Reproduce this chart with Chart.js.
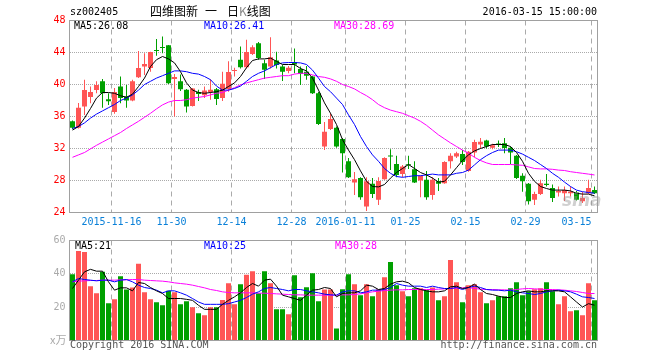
<!DOCTYPE html>
<html>
<head>
<meta charset="utf-8">
<script src="https://cdn.jsdelivr.net/npm/chart.js@4.4.0/dist/chart.umd.min.js"></script>
<style>
  html, body { margin: 0; padding: 0; background: #fff; }
  #box { position: relative; width: 660px; height: 360px; overflow: hidden; background: #fff; }
  #box canvas { position: absolute; left: 0; }
  .txt { position: absolute; font: 10px "DejaVu Sans Mono", monospace; line-height: 12px; white-space: pre; }
  .cjk { position: absolute; font: 12px "Noto Sans CJK SC", sans-serif; line-height: 14px; white-space: pre; }
</style>
</head>
<body>
<div id="box">
  <canvas id="kline" width="660" height="232" style="top:0"></canvas>
  <canvas id="vol" width="660" height="128" style="top:232px"></canvas>

  <div class="txt" style="left:70px;top:6px">sz002405</div>
  <div class="cjk" style="left:150px;top:4px">四维图新</div>
  <div class="cjk" style="left:205px;top:4px">一</div>
  <div class="cjk" style="left:227px;top:4px">日<span style="color:#888">K</span>线图</div>
  <div class="txt" style="right:63px;top:6px">2016-03-15 15:00:00</div>

  <div class="txt" style="left:74px;top:20px;color:#000">MA5:26.08</div>
  <div class="txt" style="left:204px;top:20px;color:#0000ff">MA10:26.41</div>
  <div class="txt" style="left:334px;top:20px;color:#ff00ff">MA30:28.69</div>

  <div class="txt" style="left:75px;top:240px;color:#000">MA5:21</div>
  <div class="txt" style="left:204px;top:240px;color:#0000ff">MA10:25</div>
  <div class="txt" style="left:335px;top:240px;color:#ff00ff">MA30:28</div>

  <div class="cjk" style="left:50px;top:332px;color:#aaa;font-size:11px">x万</div>
  <div class="txt" style="left:70px;top:339px;color:#555">Copyright 2016 SINA.COM</div>
  <div class="txt" style="right:63px;top:339px;color:#555">http://finance.sina.com.cn</div>
  <div style="position:absolute;left:562px;top:190px;font:italic bold 17px 'DejaVu Sans',sans-serif;color:rgba(150,150,150,0.45)">sina</div>
</div>

<script>
// Archivo: index.html — K线 + 成交量

const dates = [
  '2015-11-05', '2015-11-06', '2015-11-09', '2015-11-10', '2015-11-11', '2015-11-12', '2015-11-13',
  '2015-11-16', '2015-11-17', '2015-11-18', '2015-11-19', '2015-11-20',
  '2015-11-23', '2015-11-24', '2015-11-25', '2015-11-26', '2015-11-27',
  '2015-11-30', '2015-12-01', '2015-12-02', '2015-12-03', '2015-12-04',
  '2015-12-07', '2015-12-08', '2015-12-09', '2015-12-10', '2015-12-11',
  '2015-12-14', '2015-12-15', '2015-12-16', '2015-12-17', '2015-12-18',
  '2015-12-21', '2015-12-22', '2015-12-23', '2015-12-24', '2015-12-25',
  '2015-12-28', '2015-12-29', '2015-12-30', '2015-12-31',
  '2016-01-04', '2016-01-05', '2016-01-06', '2016-01-07', '2016-01-08',
  '2016-01-11', '2016-01-12', '2016-01-13', '2016-01-14', '2016-01-15',
  '2016-01-18', '2016-01-19', '2016-01-20', '2016-01-21', '2016-01-22',
  '2016-01-25', '2016-01-26', '2016-01-27', '2016-01-28', '2016-01-29',
  '2016-02-01', '2016-02-02', '2016-02-03', '2016-02-04', '2016-02-05',
  '2016-02-15', '2016-02-16', '2016-02-17', '2016-02-18', '2016-02-19',
  '2016-02-22', '2016-02-23', '2016-02-24', '2016-02-25', '2016-02-26',
  '2016-02-29', '2016-03-01', '2016-03-02', '2016-03-03', '2016-03-04',
  '2016-03-07', '2016-03-08', '2016-03-09', '2016-03-10', '2016-03-11',
  '2016-03-14', '2016-03-15'
];

// Fechas marcadas en el eje X y su texto
const tickDates = ['2015-11-16', '2015-11-30', '2015-12-14', '2015-12-28', '2016-01-11', '2016-01-25', '2016-02-15', '2016-02-29', '2016-03-15'];
const tickTexts = ['2015-11-16', '11-30', '12-14', '12-28', '2016-01-11', '01-25', '02-15', '02-29', '03-15'];

const priceTicks = [24, 28, 32, 36, 40, 44, 48];
const volTicks = [0, 20, 40, 60];

const opens = [35.4, 34.6, 37.25, 38.45, 39.3, 40.4, 38.15, 36.55, 39.75, 38.5,
  38.0, 40.9, 42.25, 42.05, 44.25, 44.6, 44.9, 40.7, 40.4, 39.35,
  37.3, 39.05, 38.65, 39.05, 39.4, 38.3, 39.45, 41.7, 43.1, 42.15,
  43.8, 45.15, 42.65, 42.25, 43.0, 42.25, 41.7, 42.8, 41.95, 41.6,
  41.0, 38.9, 32.25, 34.45, 34.6, 33.2, 30.4, 27.75, 28.3, 24.75,
  27.6, 25.6, 28.15, 31.1, 30.05, 28.8, 29.95, 29.4, 28.0, 28.1,
  26.2, 27.9, 27.65, 30.4, 31.0, 31.3, 29.2, 31.5, 32.5, 33.0,
  32.1, 32.6, 32.65, 32.1, 31.1, 28.6, 27.6, 25.6, 26.3, 27.6,
  27.05, 26.5, 26.4, 26.4, 26.5, 25.4, 26.4, 26.8];

const highs = [35.5, 37.7, 40.6, 39.75, 40.4, 40.7, 38.9, 39.55, 41.0, 39.95,
  40.6, 44.2, 43.9, 44.1, 45.7, 46.0, 44.95, 41.3, 41.25, 39.45,
  39.55, 39.35, 39.75, 40.65, 39.55, 41.6, 42.9, 42.1, 44.75, 45.6,
  44.9, 45.3, 43.1, 45.9, 44.1, 42.45, 42.3, 44.5, 42.25, 42.3,
  41.1, 39.05, 35.3, 36.4, 34.75, 33.3, 30.8, 29.05, 28.4, 28.4,
  28.3, 28.4, 30.9, 31.9, 31.1, 29.95, 31.1, 30.4, 28.6, 29.2,
  28.4, 28.3, 30.4, 31.4, 31.6, 31.8, 31.7, 33.1, 33.3, 33.1,
  32.6, 33.0, 33.3, 32.25, 31.2, 28.9, 27.7, 26.6, 28.1, 28.8,
  27.5, 27.25, 27.25, 27.25, 26.7, 26.6, 28.1, 27.25];

const lows = [34.4, 34.5, 36.2, 37.65, 38.9, 37.1, 37.45, 36.35, 37.65, 37.1,
  37.9, 40.8, 41.2, 41.6, 43.6, 43.9, 40.05, 36.0, 39.2, 36.5,
  37.25, 37.95, 38.3, 38.1, 37.45, 37.95, 39.1, 41.0, 42.0, 42.0,
  43.7, 43.1, 40.7, 42.0, 42.0, 40.45, 41.4, 41.4, 39.95, 40.6,
  38.8, 34.95, 31.8, 34.3, 32.1, 29.0, 28.3, 26.2, 25.6, 24.2,
  25.8, 24.95, 28.1, 29.3, 28.4, 28.4, 29.45, 27.7, 25.9, 25.6,
  25.6, 26.7, 27.6, 29.5, 30.8, 29.95, 29.1, 30.9, 32.0, 32.0,
  31.9, 32.2, 31.4, 30.05, 28.2, 26.6, 25.0, 24.95, 26.2, 27.25,
  25.3, 26.0, 25.45, 26.0, 25.5, 25.2, 26.3, 26.3];

const closes = [34.6, 37.1, 39.3, 39.05, 39.95, 38.9, 37.9, 39.05, 38.3, 38.0,
  40.4, 42.05, 42.55, 44.05, 44.2, 44.55, 40.15, 40.95, 39.4, 37.25,
  39.5, 38.8, 39.25, 39.35, 38.2, 40.1, 41.55, 41.8, 42.15, 44.05,
  44.65, 43.3, 41.85, 43.4, 42.45, 41.6, 42.1, 42.5, 41.3, 41.1,
  38.9, 35.05, 34.1, 35.7, 32.25, 31.4, 28.4, 28.15, 25.9, 27.9,
  26.3, 27.95, 30.8, 31.0, 28.7, 29.75, 29.9, 27.75, 28.6, 25.9,
  28.1, 27.6, 30.3, 31.1, 31.4, 30.3, 31.6, 32.8, 32.85, 32.25,
  32.4, 32.5, 32.05, 31.5, 28.3, 27.9, 25.4, 26.3, 27.65, 27.45,
  25.8, 26.7, 26.8, 26.6, 25.6, 25.8, 27.05, 26.4];

const ma5 = [34.3, 34.75, 35.8, 37.0, 38.3, 39.0, 39.0, 38.9, 38.6, 38.4,
  38.8, 39.75, 40.8, 42.25, 43.1, 43.5, 43.2, 42.7, 41.6, 40.2,
  39.3, 39.0, 38.9, 39.0, 39.1, 39.3, 39.75, 40.2, 41.0, 42.1,
  43.0, 43.2, 43.2, 43.3, 42.9, 42.5, 42.5, 42.5, 42.0, 41.7,
  40.8, 39.3, 37.7, 36.4, 35.0, 33.1, 31.8, 30.6, 29.2, 27.9,
  27.25, 27.2, 27.5, 28.3, 29.0, 29.5, 30.0, 29.5, 29.0, 28.7,
  28.3, 27.8, 27.9, 28.7, 29.6, 30.5, 31.2, 31.7, 32.0, 32.25,
  32.5, 32.5, 32.5, 32.25, 31.5, 30.4, 28.9, 27.9, 27.25, 27.0,
  26.8, 26.8, 26.8, 26.7, 26.4, 26.3, 26.3, 26.08];

const ma10 = [34.5, 34.75, 35.2, 35.8, 36.3, 36.7, 37.1, 37.5, 38.0, 38.3,
  38.7, 39.3, 40.0, 40.4, 40.8, 41.1, 41.4, 41.7, 41.7, 41.6,
  41.4, 41.3, 41.0, 40.6, 39.8, 39.3, 39.3, 39.5, 39.8, 40.4,
  41.0, 41.4, 41.7, 42.1, 42.5, 42.7, 42.75, 42.75, 42.7, 42.5,
  41.8, 40.8, 39.75, 39.1, 38.3, 37.5, 36.2, 35.0, 33.5, 32.25,
  31.2, 30.4, 29.5, 28.9, 28.5, 28.4, 28.5, 28.6, 28.6, 28.7,
  28.8, 28.7, 28.7, 28.7, 28.9, 29.0, 29.3, 29.95, 30.6, 31.1,
  31.5, 31.8, 31.8, 31.8, 31.6, 31.3, 30.9, 30.5, 30.0, 29.5,
  28.9, 28.4, 27.8, 27.25, 26.8, 26.6, 26.5, 26.41];

const ma30 = [30.9, 31.2, 31.5, 31.95, 32.4, 32.8, 33.2, 33.6, 34.0, 34.5,
  34.95, 35.4, 35.9, 36.4, 36.95, 37.45, 37.8, 38.0, 38.0, 38.1,
  38.3, 38.4, 38.5, 38.7, 38.9, 39.0, 39.3, 39.6, 39.95, 40.2,
  40.4, 40.6, 40.8, 40.9, 41.0, 41.1, 41.1, 41.3, 41.4, 41.4,
  41.2, 41.0, 40.9, 40.7, 40.4, 40.0, 39.75, 39.45, 39.0, 38.6,
  38.1, 37.5, 37.1, 36.8, 36.6, 36.4, 36.1, 35.8, 35.4, 34.9,
  34.3, 33.7, 33.2, 32.7, 32.25, 31.8, 31.4, 30.9, 30.5, 30.2,
  30.0, 30.0, 30.0, 30.0, 29.95, 29.9, 29.7, 29.5, 29.45, 29.45,
  29.4, 29.3, 29.25, 29.1, 29.0, 28.9, 28.8, 28.69];

// Volumen en 万手
const volumes = [39.8, 53.7, 53.1, 32.6, 28.4, 41.2, 22.3, 24.7, 38.6, 30.6,
  31.8, 46.1, 29.0, 24.7, 22.9, 21.1, 29.8, 29.0, 21.7, 23.5,
  19.9, 16.3, 15.1, 19.9, 19.9, 24.3, 34.4, 21.7, 33.8, 39.4,
  41.6, 28.4, 41.6, 34.4, 18.7, 18.7, 15.7, 39.2, 26.0, 32.0,
  40.4, 23.5, 30.6, 30.6, 7.2, 30.8, 39.8, 33.8, 27.2, 33.8,
  26.6, 30.8, 38.0, 47.1, 33.2, 29.6, 26.6, 31.4, 31.4, 30.2,
  31.8, 24.1, 26.6, 48.3, 35.0, 22.9, 33.2, 33.8, 29.0, 22.3,
  24.1, 26.6, 26.6, 31.4, 35.0, 27.2, 29.6, 30.8, 31.4, 35.0,
  29.6, 21.7, 26.6, 17.5, 18.1, 15.1, 34.4, 24.1];

const volMa5 = [31.2, 36.2, 41.2, 42.7, 41.6, 41.6, 35.2, 30.2, 31.6, 31.6,
  29.8, 34.8, 34.2, 31.8, 29.8, 28.2, 25.2, 25.2, 25.2, 24.7,
  24.1, 21.1, 18.7, 18.7, 18.7, 21.7, 24.1, 26.2, 28.6, 31.8,
  34.2, 32.6, 36.2, 36.8, 32.6, 27.2, 26.2, 25.2, 24.1, 27.2,
  30.2, 30.6, 31.8, 31.2, 26.2, 28.2, 28.6, 28.6, 29.8, 33.2,
  32.6, 30.6, 31.2, 33.8, 35.2, 35.6, 34.6, 31.8, 30.6, 29.8,
  29.2, 29.2, 29.8, 32.2, 32.6, 31.2, 31.8, 33.8, 30.6, 28.2,
  27.6, 26.6, 25.8, 25.8, 28.2, 29.2, 29.8, 29.2, 29.2, 29.8,
  29.8, 29.8, 29.2, 26.2, 23.1, 20.1, 22.1, 21.2];

const volMa10 = [35.2, 37.2, 36.6, 36.2, 35.8, 36.2, 36.2, 35.2, 36.2, 36.6,
  35.2, 33.2, 31.8, 31.2, 30.2, 28.6, 29.8, 29.8, 28.6, 27.2,
  25.2, 23.1, 21.7, 21.7, 21.7, 21.7, 22.1, 23.1, 24.1, 25.8,
  27.8, 29.2, 31.2, 31.8, 31.2, 30.6, 29.8, 30.6, 30.6, 29.8,
  29.2, 28.6, 27.8, 27.4, 27.2, 29.2, 29.8, 29.8, 28.6, 29.2,
  30.2, 30.2, 30.6, 31.8, 34.2, 33.2, 32.6, 32.6, 32.6, 31.8,
  32.6, 31.8, 31.2, 31.2, 31.8, 30.6, 31.8, 32.6, 31.8, 30.6,
  30.2, 30.2, 29.8, 30.2, 29.2, 28.6, 28.2, 27.6, 28.2, 29.2,
  29.8, 30.2, 29.8, 29.2, 27.8, 26.2, 25.8, 25.2];

const volMa30 = [35.2, 35.6, 35.8, 36.0, 36.0, 36.2, 36.2, 36.2, 36.4, 36.4,
  36.6, 36.6, 36.2, 36.0, 35.8, 35.6, 35.2, 34.6, 34.2, 33.8,
  33.2, 32.4, 31.6, 30.6, 30.0, 29.2, 28.8, 28.6, 28.6, 28.6,
  28.6, 28.4, 28.4, 28.2, 28.0, 27.8, 27.6, 27.4, 27.4, 27.2,
  27.2, 27.2, 27.2, 27.2, 27.2, 27.4, 27.4, 27.6, 28.0, 28.6,
  29.2, 29.6, 30.0, 30.2, 30.4, 30.4, 30.6, 30.6, 30.6, 30.6,
  30.6, 30.8, 31.0, 31.2, 31.4, 31.6, 31.8, 31.2, 30.8, 30.6,
  30.6, 30.4, 30.4, 30.2, 30.6, 31.0, 31.2, 31.0, 30.8, 30.6,
  30.6, 30.4, 30.2, 29.8, 29.4, 28.8, 28.2, 28.2];

const ROJO = '#ff5555';
const VERDE = '#00a000';
const MONO = 'DejaVu Sans Mono';

// Rojo si sube, verde si baja
const colores = closes.map((c, i) => c > opens[i] ? ROJO : VERDE);
const marcas = new Set(tickDates.map(d => dates.indexOf(d)));

// Marco gris alrededor del área del gráfico
const marcoPlugin = {
  id: 'marco',
  beforeDatasetsDraw(chart) {
    const { ctx, chartArea: a } = chart;
    ctx.save();
    ctx.strokeStyle = '#a0a0a0';
    ctx.lineWidth = 1;
    ctx.strokeRect(a.left, a.top, a.right - a.left, a.bottom - a.top);
    ctx.restore();
  }
};

function ejeX(mostrarTicks, alto) {
  return {
    type: 'category',
    offset: true,
    grid: {
      offset: true,
      drawTicks: false,
      color: c => marcas.has(c.index) ? '#aaaaaa' : 'rgba(0,0,0,0)'
    },
    border: { display: false, dash: [5, 4] },
    ticks: {
      display: mostrarTicks,
      autoSkip: false,
      maxRotation: 0,
      padding: 4,
      labelOffset: -3,
      color: '#0a80d8',
      font: { family: MONO, size: 10 },
      callback: function (value) {
        const i = tickDates.indexOf(this.getLabelForValue(value));
        if (i < 0) return '';
        // la última etiqueta queda a la izquierda de su línea
        return i === tickTexts.length - 1 ? tickTexts[i] + '     ' : tickTexts[i];
      }
    },
    afterFit: s => { s.height = alto; s.paddingLeft = 0; s.paddingRight = 0; }
  };
}

function ejeY(min, max, paso, extremos, color, ocultarCero) {
  return {
    min: min,
    max: max,
    grid: {
      drawTicks: false,
      color: c => extremos.includes(c.tick.value) ? 'rgba(0,0,0,0)' : '#aaaaaa'
    },
    border: { display: false, dash: [1, 1] },
    ticks: {
      stepSize: paso,
      padding: 4,
      color: color,
      font: { family: MONO, size: 10 },
      callback: v => (ocultarCero && v === 0) ? '' : v
    },
    afterFit: s => { s.width = 69.5; s.paddingTop = 0; s.paddingBottom = 0; }
  };
}

const lineaMA = (data, color) => ({
  type: 'line',
  data: data,
  borderColor: color,
  borderWidth: 1,
  pointRadius: 0,
  tension: 0,
  order: 0
});

new Chart(document.getElementById('kline'), {
  type: 'bar',
  data: {
    labels: dates,
    datasets: [
      lineaMA(ma5, '#000000'),
      lineaMA(ma10, '#0000ff'),
      lineaMA(ma30, '#ff00ff'),
      {
        data: opens.map((o, i) => [o, closes[i]]),
        backgroundColor: colores,
        barThickness: 5,
        minBarLength: 1,
        grouped: false,
        borderWidth: 0,
        inflateAmount: 0,
        order: 1
      },
      {
        data: lows.map((l, i) => [l, highs[i]]),
        backgroundColor: colores,
        barThickness: 1,
        grouped: false,
        borderWidth: 0,
        inflateAmount: 0,
        order: 2
      }
    ]
  },
  options: {
    responsive: false,
    animation: false,
    layout: { padding: { top: 20.5, right: 62.5, bottom: 0, left: 0 } },
    plugins: { legend: { display: false }, tooltip: { enabled: false } },
    scales: {
      x: ejeX(true, 19.5),
      y: ejeY(priceTicks[0], priceTicks[priceTicks.length - 1], 4, [24, 48], '#ff0000', false)
    }
  },
  plugins: [marcoPlugin]
});

new Chart(document.getElementById('vol'), {
  type: 'bar',
  data: {
    labels: dates,
    datasets: [
      lineaMA(volMa5, '#000000'),
      lineaMA(volMa10, '#0000ff'),
      lineaMA(volMa30, '#ff00ff'),
      {
        data: volumes,
        backgroundColor: colores,
        barThickness: 5,
        grouped: false,
        borderWidth: 0,
        inflateAmount: 0,
        order: 1
      }
    ]
  },
  options: {
    responsive: false,
    animation: false,
    layout: { padding: { top: 8.5, right: 62.5, bottom: 19.5, left: 0 } },
    plugins: { legend: { display: false }, tooltip: { enabled: false } },
    scales: {
      x: ejeX(false, 0),
      y: ejeY(volTicks[0], volTicks[volTicks.length - 1], 20, [0, 60], '#aaaaaa', true)
    }
  },
  plugins: [marcoPlugin]
});
</script>
</body>
</html>
